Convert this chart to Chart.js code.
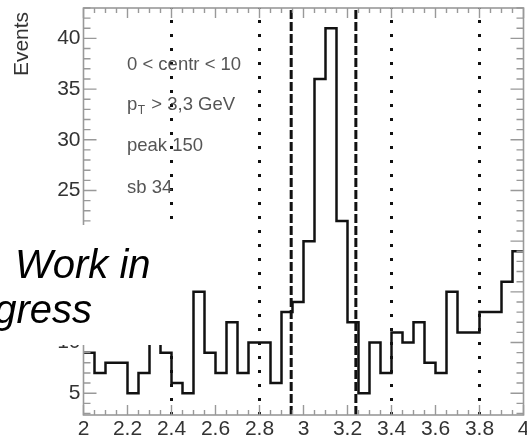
<!DOCTYPE html>
<html>
<head>
<meta charset="utf-8">
<script src="https://cdn.jsdelivr.net/npm/chart.js@4.4.1/dist/chart.umd.min.js"></script>
<style>
  html, body { margin: 0; padding: 0; background: #fff; overflow: hidden; }
  #wrap { width: 527px; height: 439px; position: relative; }
</style>
</head>
<body>
<div id="wrap"><canvas id="c" width="527" height="439"></canvas></div>
<script>
// Dimuon invariant-mass histogram (GeV), 0.05 GeV bins
const binLowEdges = [2.00, 2.05, 2.10, 2.15, 2.20, 2.25, 2.30, 2.35, 2.40, 2.45,
                     2.50, 2.55, 2.60, 2.65, 2.70, 2.75, 2.80, 2.85, 2.90, 2.95,
                     3.00, 3.05, 3.10, 3.15, 3.20, 3.25, 3.30, 3.35, 3.40, 3.45,
                     3.50, 3.55, 3.60, 3.65, 3.70, 3.75, 3.80, 3.85, 3.90, 3.95];
const histUpperEdge = 4.00;
const counts = [9, 7, 8, 8, 5, 7, 10, 9, 6, 5,
                15, 9, 7, 12, 7, 10, 10, 6, 13, 14,
                20, 36, 41, 22, 12, 5, 10, 7, 11, 10,
                12, 8, 7, 15, 11, 11, 13, 13, 16, 19];

// Side-band limits (dotted) and peak window (dashed)
const sidebandLimits = [2.4, 2.8, 3.4, 3.8];
const peakWindow = [2.944, 3.238];

// Axis ranges and tick labels
const xRange = [2, 4];
const yRange = [2.85, 43.0];
const xTickValues = [2, 2.2, 2.4, 2.6, 2.8, 3, 3.2, 3.4, 3.6, 3.8, 4];
const xTickLabels = ['2', '2.2', '2.4', '2.6', '2.8', '3', '3.2', '3.4', '3.6', '3.8', '4'];
const yTickValues = [5, 10, 15, 20, 25, 30, 35, 40];
const yTickLabels = ['5', '10', '15', '20', '25', '30', '35', '40'];
const yTitle = 'Events';

// Selection summary printed inside the frame
const infoLines = ['0 < centr < 10', 'p_T > 3,3 GeV', 'peak 150', 'sb 34'];
const stampLines = ['Work in', 'progress'];

const FONT = "'Liberation Sans', Arial, Helvetica, sans-serif";

const histPoints = binLowEdges.map((x, i) => ({ x: x, y: counts[i] }));
histPoints.push({ x: histUpperEdge, y: counts[counts.length - 1] });

function verticalLine(x, dash, width) {
  return {
    data: [{ x: x, y: yRange[0] }, { x: x, y: yRange[1] }],
    showLine: true,
    borderColor: '#111',
    borderWidth: width,
    borderDash: dash,
    borderCapStyle: 'butt',
    pointRadius: 0,
    clip: false
  };
}

const datasets = [];
sidebandLimits.forEach(x => datasets.push(verticalLine(x, [3, 11], 3)));
peakWindow.forEach(x => datasets.push(verticalLine(x, [9, 3], 3)));
datasets.push({
  data: histPoints,
  showLine: true,
  stepped: 'before',
  borderColor: '#111',
  borderWidth: 2.5,
  pointRadius: 0,
  fill: false
});

// Frame with inward-pointing ticks on all four sides, then the text overlays
const framePlugin = {
  id: 'frameAndText',
  afterDatasetsDraw(chart) {
    const ctx = chart.ctx;
    const a = chart.chartArea;
    const xs = chart.scales.x, ys = chart.scales.y;
    ctx.save();
    ctx.strokeStyle = '#999';
    ctx.lineWidth = 1.6;
    ctx.strokeRect(a.left, a.top, a.right - a.left, a.bottom - a.top);

    ctx.lineWidth = 1.4;
    ctx.beginPath();
    // x ticks every 0.05, long at every 0.2
    for (let k = 0; k <= 40; k++) {
      const v = xRange[0] + k * 0.05;
      const px = xs.getPixelForValue(v);
      const len = (k % 4 === 0) ? 10 : 5;
      ctx.moveTo(px, a.bottom); ctx.lineTo(px, a.bottom - len);
      ctx.moveTo(px, a.top); ctx.lineTo(px, a.top + len);
    }
    // y ticks every 1, long at every 5
    for (let v = Math.ceil(yRange[0]); v <= Math.floor(yRange[1]); v++) {
      const py = ys.getPixelForValue(v);
      const len = (v % 5 === 0) ? 13 : 7;
      ctx.moveTo(a.left, py); ctx.lineTo(a.left + len, py);
      ctx.moveTo(a.right, py); ctx.lineTo(a.right - len, py);
    }
    ctx.stroke();

    // axis title
    ctx.fillStyle = '#333';
    ctx.font = '21px ' + FONT;
    ctx.textAlign = 'center';
    ctx.textBaseline = 'middle';
    ctx.save();
    ctx.translate(22, 44);
    ctx.rotate(-Math.PI / 2);
    ctx.fillText(yTitle, 0, 0);
    ctx.restore();

    // selection summary
    ctx.fillStyle = '#555';
    ctx.textAlign = 'left';
    ctx.textBaseline = 'alphabetic';
    const bases = [70, 110, 151, 193];
    const x0 = 127;
    const main = '18.5px ' + FONT;
    infoLines.forEach((line, i) => {
      ctx.font = main;
      if (line.startsWith('p_T')) {
        ctx.fillText('p', x0, bases[i]);
        let x = x0 + ctx.measureText('p').width + 0.5;
        ctx.font = '12px ' + FONT;
        ctx.fillText('T', x, bases[i] + 4);
        x += ctx.measureText('T').width + 1;
        ctx.font = main;
        ctx.fillText(line.slice(3), x, bases[i]);
      } else {
        ctx.fillText(line, x0, bases[i]);
      }
    });

    // stamp on a white patch
    ctx.fillStyle = '#fff';
    ctx.fillRect(0, 225, 185, 120);
    ctx.fillStyle = '#000';
    ctx.font = 'italic 40px ' + FONT;
    ctx.textAlign = 'left';
    ctx.fillText(stampLines[0], 15, 278);
    ctx.textAlign = 'right';
    ctx.fillText(stampLines[1], 92, 323);
    ctx.restore();
  }
};

new Chart(document.getElementById('c'), {
  type: 'scatter',
  data: { datasets: datasets },
  plugins: [framePlugin],
  options: {
    responsive: false,
    animation: false,
    devicePixelRatio: 1,
    layout: { padding: { top: 8, right: 3.5, left: 0, bottom: 0 } },
    plugins: { legend: { display: false }, tooltip: { enabled: false } },
    scales: {
      x: {
        type: 'linear',
        min: xRange[0], max: xRange[1],
        grid: { display: false, drawTicks: false },
        border: { display: false },
        ticks: {
          autoSkip: false, maxRotation: 0, padding: 2,
          color: '#333', font: { family: FONT, size: 21 },
          callback: (v, i) => xTickLabels[i]
        },
        afterBuildTicks: s => { s.ticks = xTickValues.map(v => ({ value: v })); },
        afterFit: s => { s.height = 24; s.paddingLeft = 0; s.paddingRight = 0; }
      },
      y: {
        type: 'linear',
        min: yRange[0], max: yRange[1],
        grid: { display: false, drawTicks: false },
        border: { display: false },
        ticks: {
          autoSkip: false, padding: 3,
          color: '#333', font: { family: FONT, size: 21 },
          callback: (v, i) => yTickLabels[i]
        },
        afterBuildTicks: s => { s.ticks = yTickValues.map(v => ({ value: v })); },
        afterFit: s => { s.width = 83.5; s.paddingTop = 0; s.paddingBottom = 0; }
      }
    }
  }
});
</script>
</body>
</html>
